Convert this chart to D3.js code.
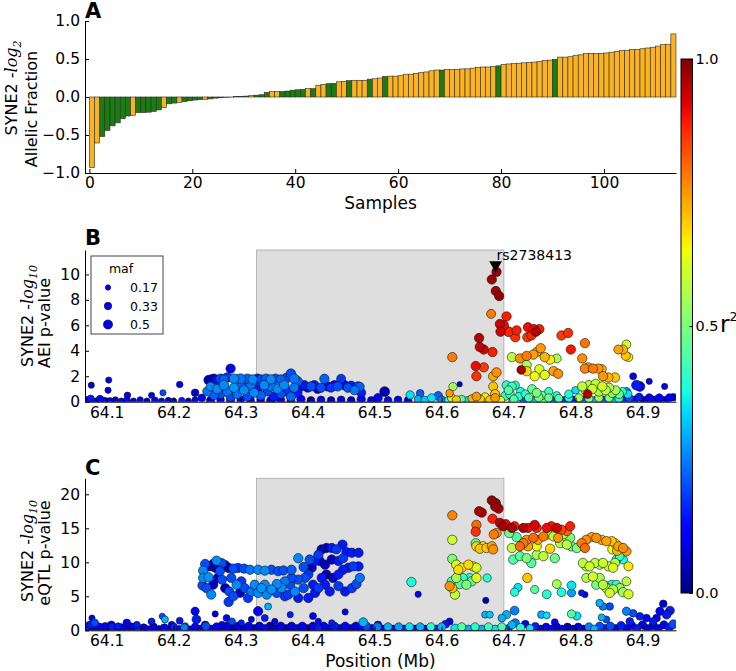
<!DOCTYPE html>
<html>
<head>
<meta charset="utf-8">
<script src="https://cdn.jsdelivr.net/npm/d3@7"></script>
<style>
body { margin: 0; background: #fff; }
text { font-family: "DejaVu Sans", sans-serif; }
</style>
</head>
<body>
<svg width="736" height="671"></svg>
<script>
const svg = d3.select('svg');

// ---------- data ----------
// panel A: allelic fraction per sample, sorted
const afValues = [-0.93,-0.605,-0.52,-0.44,-0.38,-0.34,-0.285,-0.25,-0.24,-0.205,-0.205,-0.2,-0.19,-0.17,-0.14,-0.09,-0.08,-0.07,-0.06,-0.05,-0.04,-0.035,-0.03,-0.025,-0.015,-0.01,-0.005,-0.002,0.004,0.008,0.012,0.018,0.024,0.03,0.06,0.07,0.07,0.072,0.078,0.09,0.095,0.1,0.11,0.11,0.155,0.165,0.175,0.18,0.2,0.205,0.215,0.22,0.22,0.22,0.235,0.24,0.25,0.27,0.275,0.275,0.28,0.3,0.3,0.31,0.32,0.33,0.345,0.355,0.355,0.36,0.36,0.365,0.37,0.37,0.38,0.39,0.395,0.395,0.4,0.41,0.43,0.435,0.44,0.445,0.45,0.455,0.46,0.465,0.48,0.485,0.495,0.525,0.525,0.53,0.55,0.555,0.57,0.575,0.575,0.575,0.58,0.59,0.6,0.61,0.61,0.625,0.625,0.635,0.645,0.655,0.67,0.69,0.695,0.83];
const greenSamples = [2,3,4,5,6,7,9,10,11,12,13,15,16,18,19,20,21,23,24,25,26,27,28,29,30,32,33,34,37,38,39,40,41,43,46,47,50,54,57,68,79,90];
const sampleTicks = [0,20,40,60,80,100];
const afTicks = [-1,-0.5,0,0.5,1];

// panels B and C: [position Mb, -log10 p, r2, maf]
const aeiBase = [[64.07,0.1,0.1,0.3],[64.076,0.25,0.15,0.25],[64.083,0.05,0.05,0.2],[64.09,0.2,0.12,0.3],[64.097,0.1,0.08,0.2],[64.105,0.05,0.1,0.25],[64.113,0.15,0.05,0.2],[64.122,0.05,0.1,0.2],[64.13,0.1,0.12,0.25],[64.14,0.05,0.08,0.2],[64.15,0.15,0.1,0.2],[64.16,0.05,0.05,0.2],[64.172,0.1,0.1,0.25],[64.182,0.05,0.12,0.2],[64.192,0.1,0.08,0.2],[64.2,0.05,0.1,0.2],[64.212,0.1,0.15,0.2],[64.222,0.05,0.05,0.2],[64.232,0.15,0.1,0.2],[64.242,0.3,0.12,0.3],[64.255,0.1,0.05,0.35],[64.27,0.15,0.1,0.3],[64.285,0.1,0.05,0.35],[64.3,0.15,0.1,0.3],[64.315,0.1,0.05,0.3],[64.33,0.15,0.08,0.3],[64.345,0.1,0.05,0.35],[64.36,0.15,0.1,0.3],[64.375,0.1,0.05,0.3],[64.39,0.2,0.1,0.35],[64.405,0.1,0.05,0.3],[64.42,0.15,0.1,0.3],[64.435,0.1,0.05,0.3],[64.45,0.15,0.1,0.3],[64.465,0.1,0.05,0.3],[64.48,0.2,0.1,0.35],[64.495,0.1,0.08,0.3],[64.505,0.3,0.12,0.4],[64.52,0.1,0.1,0.3],[64.535,0.15,0.12,0.3],[64.55,0.1,0.08,0.3],[64.565,0.2,0.3,0.3],[64.575,0.1,0.32,0.35],[64.585,0.3,0.35,0.35],[64.595,0.45,0.22,0.4],[64.6,0.15,0.25,0.3],[64.61,0.1,0.4,0.3],[64.615,0.3,0.6,0.35],[64.622,0.15,0.7,0.35],[64.63,0.2,0.45,0.3],[64.638,0.1,0.35,0.3],[64.645,0.25,0.72,0.3],[64.652,0.4,0.75,0.4],[64.658,0.2,0.7,0.35],[64.665,0.35,0.66,0.4],[64.672,0.15,0.7,0.35],[64.68,0.3,0.75,0.4],[64.688,0.1,0.65,0.35],[64.695,0.45,0.4,0.4],[64.702,0.6,0.42,0.4],[64.708,0.2,0.45,0.35],[64.715,0.4,0.4,0.35],[64.722,0.15,0.2,0.3],[64.73,0.3,0.45,0.35],[64.738,0.1,0.3,0.3],[64.745,0.35,0.5,0.4],[64.752,0.15,0.45,0.35],[64.76,0.3,0.48,0.35],[64.768,0.1,0.2,0.3],[64.775,0.25,0.45,0.35],[64.782,0.1,0.15,0.3],[64.79,0.3,0.38,0.35],[64.798,0.15,0.1,0.3],[64.805,0.3,0.55,0.35],[64.812,0.1,0.2,0.3],[64.82,0.25,0.5,0.35],[64.828,0.1,0.3,0.3],[64.835,0.3,0.55,0.35],[64.842,0.15,0.2,0.3],[64.85,0.3,0.52,0.35],[64.858,0.1,0.3,0.3],[64.865,0.25,0.4,0.35],[64.872,0.1,0.15,0.3],[64.88,0.3,0.2,0.35],[64.888,0.15,0.1,0.3],[64.895,0.35,0.15,0.35],[64.902,0.1,0.05,0.3],[64.91,0.3,0.1,0.35],[64.918,0.15,0.08,0.3],[64.925,0.3,0.12,0.35],[64.932,0.1,0.05,0.3],[64.94,0.3,0.1,0.35],[64.946,0.35,0.08,0.3]];

const aeiCluster = [[64.077,1.3,0.08,0.2],[64.103,1.7,0.1,0.2],[64.102,0.9,0.08,0.2],[64.131,0.5,0.1,0.22],[64.167,0.5,0.12,0.2],[64.184,0.7,0.2,0.2],[64.209,1.35,0.1,0.22],[64.232,0.7,0.08,0.3],
[64.252,1.7,0.05,0.45],[64.256,1.75,0.02,0.45],[64.26,1.8,0.08,0.48],[64.265,1.7,0.15,0.45],[64.27,1.8,0.2,0.48],[64.275,1.75,0.22,0.45],[64.28,1.9,0.18,0.48],[64.285,2.6,0.1,0.45],[64.29,1.8,0.26,0.48],[64.295,1.75,0.2,0.45],[64.3,1.8,0.24,0.5],[64.305,1.7,0.18,0.45],[64.31,1.8,0.22,0.48],[64.318,1.75,0.26,0.45],[64.325,1.8,0.15,0.48],[64.33,1.75,0.2,0.45],[64.338,1.8,0.22,0.48],[64.345,1.75,0.26,0.45],[64.352,1.8,0.2,0.48],[64.36,1.75,0.22,0.45],[64.368,1.85,0.2,0.48],[64.375,2.2,0.2,0.48],[64.38,1.8,0.24,0.5],[64.385,1.6,0.22,0.48],
[64.39,1.2,0.1,0.45],[64.395,1.3,0.15,0.45],[64.4,1.1,0.1,0.42],[64.405,1.2,0.2,0.45],[64.41,1.3,0.15,0.45],[64.415,1.0,0.05,0.42],[64.42,1.1,0.2,0.45],[64.425,1.8,0.22,0.45],[64.43,1.2,0.12,0.45],[64.435,1.1,0.18,0.42],[64.44,1.3,0.1,0.45],[64.445,1.2,0.2,0.45],[64.45,1.8,0.18,0.42],[64.455,1.3,0.12,0.45],[64.46,1.1,0.2,0.45],[64.465,1.25,0.15,0.45],[64.47,0.9,0.24,0.42],[64.475,1.2,0.2,0.45],[64.48,0.7,0.15,0.42],
[64.25,0.8,0.24,0.42],[64.255,1.2,0.26,0.4],[64.26,0.5,0.22,0.42],[64.265,1.0,0.26,0.45],[64.27,0.6,0.2,0.45],[64.275,1.3,0.26,0.48],[64.28,0.8,0.24,0.45],[64.285,0.4,0.2,0.45],[64.29,1.1,0.27,0.45],[64.295,0.6,0.24,0.42],[64.3,1.3,0.22,0.48],[64.305,0.9,0.26,0.45],[64.31,0.4,0.2,0.42],[64.315,1.2,0.24,0.45],[64.32,0.7,0.26,0.45],[64.325,1.0,0.15,0.45],[64.33,0.5,0.22,0.45],[64.335,1.3,0.26,0.45],[64.34,0.8,0.2,0.42],[64.345,1.2,0.24,0.45],[64.35,0.4,0.15,0.45],[64.355,1.0,0.26,0.45],[64.36,0.6,0.2,0.42],[64.365,1.3,0.26,0.48],[64.37,0.8,0.18,0.45],[64.375,0.4,0.22,0.45],[64.38,1.1,0.24,0.45],[64.385,0.7,0.15,0.42],
[64.478,1.18,0.22,0.4],[64.515,0.79,0.05,0.5],[64.553,0.53,0.35,0.35],[64.568,0.66,0.22,0.3],[64.617,1.18,0.55,0.35],[64.627,1.37,0.08,0.15],[64.612,0.66,0.75,0.3]];

const aeiPeak = [[64.682,10.2,0.98,0.45],[64.675,9.6,0.97,0.45],[64.681,8.7,0.97,0.45],[64.686,8.3,0.98,0.45],[64.674,6.9,0.78,0.42],[64.697,6.7,0.88,0.45],[64.687,6.1,0.93,0.45],[64.693,6.0,0.9,0.45],[64.688,5.5,0.93,0.45],[64.7,5.5,0.87,0.5],[64.712,5.6,0.88,0.45],[64.71,5.06,0.86,0.45],[64.729,5.85,0.9,0.45],[64.728,5.06,0.85,0.45],[64.734,5.2,0.87,0.45],[64.738,5.7,0.9,0.45],[64.746,5.7,0.88,0.45],[64.741,5.5,0.95,0.45],[64.779,5.2,0.85,0.45],[64.789,5.4,0.86,0.45],[64.814,4.6,0.79,0.45],[64.793,4.1,0.89,0.45],[64.656,5.0,0.95,0.45],[64.657,4.3,0.94,0.45],[64.663,4.1,0.92,0.45],[64.676,3.9,0.88,0.45],[64.616,3.5,0.78,0.45],[64.651,2.8,0.9,0.45],[64.663,2.7,0.85,0.45],[64.652,2.0,0.86,0.45],[64.682,2.3,0.76,0.45],[64.677,2.0,0.73,0.45],[64.677,1.2,0.7,0.42],[64.68,0.6,0.7,0.42],
[64.705,3.5,0.58,0.45],[64.717,3.4,0.76,0.45],[64.727,3.6,0.78,0.45],[64.737,3.7,0.74,0.45],[64.748,4.2,0.75,0.45],[64.742,3.9,0.72,0.45],[64.754,3.5,0.72,0.45],[64.762,3.3,0.66,0.45],[64.772,3.4,0.55,0.4],[64.727,2.9,0.56,0.45],[64.719,2.5,0.96,0.4],[64.727,2.4,0.68,0.45],[64.739,2.0,0.64,0.45],[64.746,2.55,0.62,0.45],[64.754,2.1,0.62,0.45],[64.767,2.4,0.74,0.45],[64.774,2.2,0.76,0.45],
[64.81,3.4,0.76,0.45],[64.814,2.6,0.77,0.45],[64.819,2.7,0.74,0.45],[64.826,2.6,0.78,0.45],[64.834,2.6,0.75,0.45],[64.839,2.55,0.72,0.45],[64.841,2.0,0.75,0.45],[64.849,1.9,0.72,0.45],[64.859,1.9,0.7,0.45],[64.864,4.1,0.74,0.42],[64.871,4.1,0.72,0.42],[64.876,4.5,0.6,0.4],[64.875,3.6,0.7,0.42],[64.879,3.5,0.66,0.4],
[64.697,1.3,0.4,0.4],[64.7,0.9,0.45,0.4],[64.705,1.2,0.42,0.4],[64.71,1.3,0.4,0.35],[64.718,0.8,0.38,0.35],[64.725,0.6,0.4,0.35],[64.735,1.0,0.48,0.4],[64.742,0.7,0.5,0.4],[64.75,0.5,0.45,0.35],[64.76,0.8,0.42,0.35],[64.772,0.5,0.4,0.3],[64.79,0.6,0.38,0.35],[64.8,0.9,0.35,0.3],
[64.81,1.2,0.58,0.45],[64.815,0.9,0.55,0.45],[64.82,1.3,0.56,0.45],[64.825,1.0,0.6,0.45],[64.83,1.4,0.58,0.45],[64.835,0.8,0.55,0.45],[64.84,1.2,0.6,0.45],[64.845,0.9,0.58,0.45],[64.85,1.1,0.56,0.45],[64.855,0.7,0.52,0.45],[64.86,0.9,0.55,0.4],[64.865,0.6,0.48,0.4],[64.818,0.6,0.96,0.4],[64.87,0.8,0.4,0.35],[64.878,0.6,0.35,0.35],
[64.891,1.3,0.15,0.5],[64.896,1.2,0.12,0.5],[64.886,2.0,0.1,0.25],[64.91,1.6,0.1,0.2],[64.933,1.2,0.1,0.2],[64.876,0.8,0.28,0.35]];

const eqtlBase = [[64.07,0.5,0.15,0.35],[64.075,0.2,0.1,0.3],[64.08,0.6,0.12,0.3],[64.086,0.1,0.08,0.25],[64.092,0.4,0.1,0.3],[64.1,0.2,0.12,0.25],[64.108,0.5,0.15,0.3],[64.115,0.15,0.1,0.25],[64.122,0.4,0.12,0.3],[64.13,0.2,0.08,0.25],[64.138,0.5,0.1,0.3],[64.146,0.2,0.15,0.25],[64.155,0.4,0.1,0.3],[64.163,0.15,0.12,0.25],[64.17,0.5,0.1,0.3],[64.178,0.2,0.08,0.25],[64.186,0.4,0.12,0.3],[64.194,0.15,0.1,0.25],[64.2,0.5,0.15,0.3],[64.208,0.2,0.1,0.25],[64.216,0.4,0.25,0.3],[64.224,0.15,0.1,0.25],[64.232,0.5,0.12,0.3],[64.24,0.2,0.1,0.3],[64.248,0.6,0.2,0.35],[64.256,0.2,0.1,0.3],[64.264,0.5,0.12,0.35],[64.272,0.2,0.08,0.3],[64.28,0.6,0.1,0.35],[64.288,0.3,0.05,0.3],[64.296,0.6,0.1,0.35],[64.304,0.3,0.08,0.3],[64.312,0.6,0.12,0.35],[64.32,0.3,0.05,0.3],[64.328,0.6,0.08,0.35],[64.336,0.3,0.1,0.3],[64.344,0.6,0.05,0.35],[64.352,0.3,0.08,0.3],[64.36,0.6,0.1,0.35],[64.368,0.3,0.05,0.3],[64.376,0.6,0.08,0.35],[64.384,0.3,0.1,0.3],[64.392,0.6,0.12,0.35],[64.4,0.3,0.05,0.3],[64.408,0.6,0.1,0.35],[64.416,0.3,0.15,0.3],[64.424,0.6,0.1,0.35],[64.432,0.3,0.08,0.3],[64.44,0.6,0.15,0.35],[64.448,0.3,0.1,0.3],[64.456,0.6,0.12,0.35],[64.464,0.3,0.08,0.3],[64.472,0.6,0.1,0.35],[64.48,0.3,0.12,0.3],[64.488,0.6,0.2,0.35],[64.496,0.3,0.1,0.3],[64.504,0.5,0.25,0.35],[64.512,0.2,0.12,0.3],[64.52,0.5,0.3,0.35],[64.528,0.2,0.1,0.3],[64.536,0.5,0.28,0.35],[64.544,0.2,0.15,0.3],[64.552,0.5,0.35,0.35],[64.56,0.2,0.1,0.3],[64.568,0.5,0.3,0.35],[64.576,0.2,0.12,0.3],[64.584,0.5,0.4,0.35],[64.592,0.2,0.15,0.3],[64.6,0.5,0.3,0.35],[64.606,0.9,0.15,0.3],[64.612,1.3,0.1,0.25],[64.62,0.3,0.35,0.35],[64.63,0.5,0.45,0.35],[64.64,0.2,0.3,0.3],[64.65,0.5,0.4,0.35],[64.66,0.2,0.3,0.3],[64.67,0.5,0.42,0.35],[64.68,0.2,0.35,0.3],[64.69,0.5,0.45,0.35],[64.7,0.3,0.2,0.3],[64.705,0.8,0.3,0.35],[64.71,1.1,0.25,0.35],[64.718,0.4,0.4,0.35],[64.725,0.9,0.12,0.3],[64.732,0.3,0.35,0.3],[64.74,0.6,0.15,0.3],[64.748,0.2,0.08,0.3],[64.756,0.5,0.1,0.3],[64.764,0.2,0.12,0.3],[64.772,0.5,0.08,0.3],[64.78,0.2,0.1,0.3],[64.788,0.5,0.05,0.3],[64.796,0.2,0.08,0.3],[64.804,0.5,0.1,0.3],[64.812,0.2,0.05,0.3],[64.82,0.5,0.25,0.35],[64.828,0.2,0.3,0.3],[64.836,0.6,0.2,0.35],[64.844,0.3,0.15,0.3],[64.852,0.6,0.2,0.35],[64.86,0.3,0.1,0.3],[64.868,0.7,0.15,0.35],[64.876,0.3,0.12,0.3],[64.884,0.7,0.1,0.35],[64.892,0.3,0.15,0.3],[64.9,0.8,0.12,0.35],[64.908,0.3,0.1,0.3],[64.916,0.7,0.08,0.35],[64.924,0.3,0.1,0.3],[64.932,0.8,0.12,0.35],[64.94,0.4,0.15,0.35],[64.946,0.9,0.2,0.4],
[64.078,1.8,0.1,0.2],[64.082,1.1,0.2,0.3],[64.075,0.8,0.15,0.3],[64.088,0.6,0.1,0.25],[64.098,0.6,0.12,0.3],[64.107,0.8,0.1,0.3],[64.117,0.6,0.15,0.25],[64.13,1.1,0.1,0.3],[64.137,0.6,0.12,0.2],[64.145,0.8,0.15,0.25],[64.157,0.35,0.1,0.2],[64.167,1.3,0.15,0.25],[64.183,2.05,0.2,0.2],[64.187,1.6,0.3,0.25],[64.197,0.8,0.1,0.25],[64.209,1.4,0.15,0.25],[64.217,0.6,0.2,0.25],[64.232,2.8,0.1,0.35],[64.234,1.6,0.15,0.4],[64.247,0.8,0.12,0.3],[64.262,2.4,0.08,0.2],[64.272,0.8,0.1,0.25],[64.279,1.8,0.12,0.25],[64.287,1.3,0.2,0.25],[64.301,1.1,0.15,0.2],[64.316,1.6,0.1,0.2],[64.326,2.8,0.12,0.45],[64.336,1.8,0.15,0.25],[64.341,3.5,0.3,0.25],[64.351,1.3,0.1,0.2],[64.374,2.3,0.15,0.2],[64.408,2.1,0.1,0.25],[64.416,1.3,0.12,0.2],[64.436,1.1,0.15,0.2],[64.456,2.7,0.12,0.2],[64.483,1.2,0.3,0.4],[64.505,0.8,0.15,0.3]];

const eqtlCluster = [[64.244,8.77,0.26,0.45],[64.247,9.75,0.2,0.45],[64.253,9.4,0.05,0.45],[64.259,9.75,0.05,0.45],[64.264,10.24,0.26,0.45],[64.272,9.85,0.2,0.45],[64.277,9.56,0.06,0.45],[64.282,9.16,0.05,0.45],[64.289,9.07,0.2,0.45],[64.296,9.16,0.18,0.45],[64.305,9.07,0.2,0.45],[64.314,8.9,0.24,0.45],[64.326,8.9,0.26,0.45],[64.336,8.77,0.26,0.45],[64.346,8.9,0.2,0.45],[64.356,8.7,0.2,0.45],
[64.244,7.7,0.26,0.45],[64.252,7.8,0.27,0.45],[64.243,6.6,0.2,0.45],[64.249,6.2,0.2,0.45],[64.256,5.25,0.26,0.45],[64.259,6.7,0.06,0.45],[64.266,7.7,0.05,0.45],[64.272,7.45,0.2,0.45],[64.277,6.2,0.06,0.45],[64.283,5.7,0.2,0.45],[64.282,4.16,0.18,0.45],[64.289,5.0,0.2,0.45],[64.294,6.7,0.26,0.45],[64.299,5.5,0.06,0.45],[64.306,6.2,0.2,0.45],[64.311,4.75,0.18,0.45],[64.316,5.7,0.24,0.45],[64.321,6.7,0.26,0.45],[64.326,5.5,0.26,0.45],[64.331,6.2,0.27,0.45],[64.339,5.25,0.26,0.45],[64.346,6.0,0.27,0.45],[64.354,5.5,0.2,0.45],[64.361,6.2,0.26,0.45],[64.366,5.0,0.18,0.45],[64.374,6.7,0.2,0.45],[64.381,5.7,0.26,0.45],[64.386,4.75,0.15,0.45],[64.394,6.2,0.2,0.45],[64.396,7.7,0.2,0.45],[64.401,8.2,0.18,0.45],[64.406,9.2,0.06,0.45],[64.411,10.2,0.15,0.45],[64.416,11.1,0.18,0.45],[64.421,11.9,0.06,0.45],[64.428,12.1,0.05,0.45],[64.436,12.1,0.15,0.45],[64.443,11.9,0.18,0.45],[64.452,12.6,0.15,0.45],[64.458,11.5,0.15,0.45],[64.466,11.4,0.15,0.45],[64.476,11.4,0.15,0.45],
[64.386,10.6,0.26,0.45],[64.394,9.3,0.2,0.45],[64.403,10.4,0.2,0.45],[64.418,10.2,0.05,0.45],[64.426,9.65,0.06,0.45],[64.436,10.4,0.06,0.45],[64.446,10.2,0.15,0.45],[64.453,10.6,0.18,0.45],[64.461,9.2,0.15,0.45],[64.468,9.4,0.18,0.45],[64.476,9.4,0.15,0.45],[64.478,7.7,0.24,0.45],[64.473,6.8,0.2,0.45],[64.466,6.2,0.18,0.45],[64.456,5.7,0.15,0.45],[64.446,6.5,0.18,0.45],[64.438,7.7,0.06,0.45],[64.428,8.2,0.05,0.45],[64.421,7.7,0.15,0.45],[64.416,6.2,0.18,0.45],[64.411,5.5,0.15,0.45],[64.401,4.75,0.15,0.45],[64.386,7.45,0.2,0.45],[64.376,7.7,0.2,0.45],[64.371,5.25,0.18,0.45],[64.453,8.9,0.15,0.45],[64.446,8.2,0.15,0.45],
[64.364,8.8,0.2,0.45],[64.376,8.9,0.22,0.45],[64.262,9.2,0.05,0.45],[64.269,8.7,0.2,0.45],[64.286,7.7,0.2,0.45],[64.301,7.2,0.18,0.45],[64.336,6.7,0.26,0.45],[64.354,6.8,0.26,0.45],[64.366,7.2,0.24,0.45],[64.408,6.7,0.15,0.45],[64.426,6.7,0.15,0.45],[64.433,5.7,0.15,0.45]];

const eqtlPeak = [[64.675,19.1,0.98,0.45],[64.681,18.7,0.97,0.45],[64.685,17.9,0.96,0.45],[64.68,18.2,0.97,0.45],[64.656,17.5,0.96,0.45],[64.66,17.3,0.95,0.45],[64.616,16.9,0.77,0.45],[64.676,16.4,0.88,0.45],[64.652,15.5,0.8,0.45],[64.651,14.5,0.86,0.45],[64.687,15.8,0.95,0.45],[64.692,15.3,0.97,0.45],[64.7,15.1,0.45,0.45],[64.696,15.6,0.9,0.45],[64.709,15.3,0.88,0.45],[64.705,15.05,0.96,0.45],[64.722,15.05,0.95,0.45],[64.729,15.05,0.9,0.45],[64.739,15.5,0.92,0.45],[64.742,15.05,0.88,0.45],[64.757,15.05,0.9,0.45],[64.764,15.3,0.88,0.45],[64.772,15.05,0.93,0.45],[64.779,14.8,0.84,0.45],[64.792,15.3,0.88,0.45],[64.787,14.6,0.8,0.45],[64.701,14.3,0.48,0.45],[64.712,13.7,0.45,0.45],[64.616,13.3,0.6,0.45],[64.678,14.1,0.78,0.45],[64.682,14.3,0.76,0.45],
[64.652,12.35,0.68,0.45],[64.657,12.0,0.7,0.45],[64.662,12.35,0.66,0.45],[64.667,12.1,0.7,0.45],[64.675,12.35,0.73,0.45],[64.677,11.9,0.76,0.45],[64.651,12.8,0.45,0.45],[64.722,12.8,0.78,0.45],[64.727,13.3,0.76,0.45],[64.737,13.6,0.8,0.45],[64.744,13.3,0.74,0.45],[64.752,13.8,0.78,0.45],[64.759,14.1,0.55,0.45],[64.767,13.8,0.58,0.45],[64.774,13.6,0.75,0.45],[64.782,14.1,0.55,0.45],[64.792,13.6,0.5,0.45],[64.762,12.0,0.68,0.45],[64.777,12.8,0.55,0.45],[64.787,12.6,0.58,0.45],[64.794,12.35,0.45,0.45],[64.802,12.1,0.5,0.45],[64.717,12.35,0.8,0.45],[64.729,12.35,0.74,0.45],[64.742,12.35,0.64,0.45],[64.705,12.1,0.58,0.45],[64.707,10.4,0.45,0.45],[64.717,10.9,0.46,0.45],[64.727,10.6,0.5,0.45],[64.734,9.9,0.45,0.45],[64.742,11.1,0.55,0.45],[64.752,10.9,0.58,0.45],[64.769,10.6,0.48,0.45],
[64.809,12.8,0.78,0.45],[64.814,12.1,0.8,0.45],[64.816,13.3,0.76,0.45],[64.824,13.7,0.74,0.45],[64.831,13.6,0.76,0.45],[64.839,13.3,0.72,0.45],[64.846,13.1,0.74,0.45],[64.854,13.1,0.7,0.45],[64.859,12.8,0.66,0.45],[64.864,12.35,0.74,0.45],[64.871,12.1,0.76,0.45],[64.876,11.6,0.75,0.45],[64.862,11.7,0.72,0.45],[64.855,11.9,0.64,0.45],[64.861,10.4,0.4,0.4],[64.871,10.4,0.38,0.4],[64.866,10.9,0.42,0.4],
[64.811,9.9,0.58,0.45],[64.816,9.4,0.56,0.45],[64.821,9.4,0.6,0.45],[64.829,9.9,0.58,0.45],[64.836,9.65,0.56,0.45],[64.841,9.9,0.6,0.45],[64.849,9.4,0.58,0.45],[64.856,9.2,0.62,0.45],[64.859,9.9,0.56,0.45],[64.879,9.4,0.66,0.42],[64.816,7.7,0.56,0.42],[64.826,7.9,0.6,0.45],[64.836,7.7,0.55,0.45],[64.841,6.7,0.58,0.45],[64.846,6.2,0.56,0.45],[64.851,5.5,0.6,0.45],[64.831,6.7,0.5,0.45],[64.844,6.6,0.4,0.4],[64.854,6.7,0.38,0.4],[64.861,6.7,0.42,0.4],[64.876,7.2,0.58,0.4],[64.856,6.0,0.58,0.45],[64.866,6.2,0.52,0.45],[64.871,5.6,0.55,0.45],[64.879,5.3,0.6,0.45],
[64.616,10.5,0.5,0.45],[64.622,9.65,0.62,0.45],[64.63,9.2,0.66,0.45],[64.64,9.65,0.68,0.45],[64.647,9.4,0.6,0.45],[64.652,9.2,0.62,0.45],[64.652,7.7,0.62,0.45],[64.645,7.2,0.45,0.45],[64.635,7.0,0.42,0.45],[64.627,6.8,0.45,0.45],[64.622,7.7,0.55,0.45],[64.615,7.2,0.4,0.4],[64.612,6.5,0.76,0.45],[64.62,5.25,0.58,0.45],[64.616,6.2,0.7,0.45],[64.637,6.7,0.5,0.45],[64.625,8.9,0.68,0.45],[64.642,7.7,0.4,0.4],[64.632,7.7,0.42,0.4],
[64.555,7.1,0.38,0.45],[64.565,5.3,0.12,0.2],[64.668,7.7,0.4,0.35],[64.666,4.4,0.05,0.2],[64.665,2.3,0.3,0.25],[64.672,2.3,0.32,0.25],[64.728,7.7,0.7,0.45],[64.714,6.3,0.35,0.35],[64.709,5.6,0.38,0.35],[64.739,6.0,0.45,0.35],[64.757,5.3,0.4,0.4],[64.779,5.6,0.38,0.4],[64.794,6.6,0.35,0.4],[64.794,5.5,0.28,0.35],[64.772,6.8,0.55,0.4],[64.802,2.1,0.35,0.35],[64.809,5.5,0.15,0.2],[64.814,5.25,0.12,0.2],[64.794,2.4,0.45,0.35],[64.749,2.3,0.3,0.3],[64.757,2.2,0.35,0.25],[64.769,1.2,0.1,0.25],[64.709,2.9,0.25,0.4],[64.697,2.3,0.3,0.35],[64.69,1.8,0.3,0.3],
[64.931,3.9,0.08,0.3],[64.941,2.9,0.15,0.4],[64.936,2.3,0.15,0.4],[64.926,2.8,0.12,0.35],[64.921,1.8,0.1,0.3],[64.916,1.3,0.15,0.3],[64.906,1.8,0.1,0.3],[64.896,2.05,0.15,0.3],[64.886,2.5,0.2,0.3],[64.876,2.8,0.25,0.35],[64.881,1.3,0.15,0.3],[64.836,4.0,0.3,0.3],[64.841,3.5,0.25,0.3],[64.851,3.5,0.2,0.3],[64.839,1.9,0.3,0.25],[64.846,1.6,0.2,0.25]];

const posTicks = [64.1,64.2,64.3,64.4,64.5,64.6,64.7,64.8,64.9];
const aeiTicks = [0,2,4,6,8,10];
const eqtlTicks = [0,5,10,15,20];
const mafLegend = [0.17, 0.33, 0.5];
const r2Ticks = [0, 0.5, 1];
const candidateRegion = [64.3235, 64.693];
const leadSnp = {id: 'rs2738413', pos: 64.6806, p: 10.74};

// ---------- helpers ----------
const orange = '#fcb322';
const green = '#1b7c12';
const tickFont = 15.5;
const left = 85, right = 676;

// matplotlib "jet" colour map
const jetR = d3.scaleLinear().domain([0, 0.35, 0.66, 0.89, 1]).range([0, 0, 1, 1, 0.5]).clamp(true);
const jetG = d3.scaleLinear().domain([0, 0.125, 0.375, 0.64, 0.91, 1]).range([0, 0, 1, 1, 0, 0]).clamp(true);
const jetB = d3.scaleLinear().domain([0, 0.11, 0.34, 0.65, 1]).range([0.5, 1, 1, 0, 0]).clamp(true);
const jet = v => d3.rgb(jetR(v) * 255, jetG(v) * 255, jetB(v) * 255).formatHex();

const rScale = d3.scaleSqrt().domain([0, 0.5]).range([0, 4.95]);

function styleAxis(g, size) {
    g.selectAll('text').attr('font-size', size || tickFont).attr('fill', '#000')
        .attr('font-family', '"DejaVu Sans", sans-serif');
    g.selectAll('line').attr('stroke', '#000');
    g.select('.domain').attr('stroke', '#000').attr('stroke-width', 1);
}

function yLabel(x1, y1, x2, y2, sub, second) {
    const t = svg.append('text')
        .attr('transform', `translate(${x1},${y1}) rotate(-90)`)
        .attr('text-anchor', 'middle')
        .attr('font-size', 16);
    t.append('tspan').text('SYNE2 -');
    t.append('tspan').attr('font-family', '"DejaVu Serif", serif').attr('font-style', 'italic').text('log');
    t.append('tspan').attr('font-family', '"DejaVu Serif", serif').attr('font-style', 'italic')
        .attr('font-size', 11).attr('dy', 4).text(sub);
    svg.append('text')
        .attr('transform', `translate(${x2},${y2}) rotate(-90)`)
        .attr('text-anchor', 'middle')
        .attr('font-size', 16)
        .text(second);
}

function panelLetter(letter, y) {
    svg.append('text').attr('x', 85).attr('y', y)
        .attr('font-size', 21).attr('font-weight', 'bold').text(letter);
}

// ---------- panel A ----------
const xA = d3.scaleLinear().domain([-0.85, 114]).range([left, right]);
const yA = d3.scaleLinear().domain([-1, 1]).range([173, 21]);

const gA = svg.append('g');
gA.selectAll('rect').data(afValues).join('rect')
    .attr('x', (d, i) => xA(i))
    .attr('width', (d, i) => xA(i + 1) - xA(i))
    .attr('y', d => yA(Math.max(0, d)))
    .attr('height', d => Math.abs(yA(d) - yA(0)))
    .attr('fill', (d, i) => greenSamples.includes(i) ? green : orange)
    .attr('stroke', '#2a2a2a')
    .attr('stroke-width', 0.6);

const yAxisA = gA.append('g').attr('transform', `translate(${left},0)`)
    .call(d3.axisLeft(yA).tickValues(afTicks).tickFormat(d3.format('.1f'))
        .tickSizeInner(-4).tickSizeOuter(0).tickPadding(5));
styleAxis(yAxisA);
const xAxisA = gA.append('g').attr('transform', `translate(0,${yA(-1)})`)
    .call(d3.axisBottom(xA).tickValues(sampleTicks).tickSizeInner(-4).tickSizeOuter(0).tickPadding(4));
styleAxis(xAxisA);

svg.append('text').attr('x', (left + right) / 2).attr('y', 209)
    .attr('text-anchor', 'middle').attr('font-size', 17).text('Samples');
yLabel(17, 88, 37, 109, '2', 'Allelic Fraction');
panelLetter('A', 18);

// ---------- scatter panels ----------
const xPos = d3.scaleLinear().domain([64.0676, 64.95]).range([left, right]);

function scatterPanel(id, top, bottom, yMax, ticks, sets) {
    const y = d3.scaleLinear().domain([0, yMax]).range([bottom, top]);
    const g = svg.append('g');

    g.append('clipPath').attr('id', id).append('rect')
        .attr('x', left).attr('y', top).attr('width', right - left).attr('height', bottom - top);

    g.append('rect')
        .attr('x', xPos(candidateRegion[0])).attr('y', top)
        .attr('width', xPos(candidateRegion[1]) - xPos(candidateRegion[0]))
        .attr('height', bottom - top)
        .attr('fill', '#dedede').attr('stroke', '#a8a8a8').attr('stroke-width', 0.8);

    const pts = [].concat(...sets).slice().sort((a, b) => a[2] - b[2]);
    g.append('g').attr('clip-path', `url(#${id})`)
        .selectAll('circle').data(pts).join('circle')
        .attr('cx', d => xPos(d[0]))
        .attr('cy', d => y(d[1]))
        .attr('r', d => rScale(d[3]))
        .attr('fill', d => jet(d[2]))
        .attr('stroke', '#111')
        .attr('stroke-opacity', 0.85)
        .attr('stroke-width', 0.7);

    const ya = g.append('g').attr('transform', `translate(${left},0)`)
        .call(d3.axisLeft(y).tickValues(ticks).tickFormat(d3.format('d'))
            .tickSizeInner(-4).tickSizeOuter(0).tickPadding(5));
    styleAxis(ya);
    const xa = g.append('g').attr('transform', `translate(0,${bottom})`)
        .call(d3.axisBottom(xPos).tickValues(posTicks).tickFormat(d3.format('.1f'))
            .tickSizeInner(-4).tickSizeOuter(0).tickPadding(5));
    styleAxis(xa);
    return y;
}

// panel B
const yB = scatterPanel('clipB', 250, 401.7, 11.92, aeiTicks, [aeiBase, aeiCluster, aeiPeak]);
panelLetter('B', 245);
yLabel(33, 316, 50, 323, '10', 'AEI p-value');

// lead SNP marker
svg.append('path')
    .attr('d', d3.symbol(d3.symbolTriangle, 70)())
    .attr('transform', `translate(${xPos(leadSnp.pos)},${yB(leadSnp.p)}) rotate(180)`)
    .attr('fill', '#000');
svg.append('text').attr('x', xPos(leadSnp.pos) + 1).attr('y', 260)
    .attr('font-size', 14).text(leadSnp.id);

// maf legend
const leg = svg.append('g');
leg.append('rect').attr('x', 91).attr('y', 256).attr('width', 72).attr('height', 78)
    .attr('fill', '#fff').attr('stroke', '#444').attr('stroke-width', 1);
leg.append('text').attr('x', 121).attr('y', 273).attr('text-anchor', 'middle')
    .attr('font-size', 12.5).text('maf');
leg.selectAll('circle').data(mafLegend).join('circle')
    .attr('cx', 108).attr('cy', (d, i) => 287.5 + i * 18.5)
    .attr('r', d => rScale(d) * 0.92)
    .attr('fill', jet(0.12)).attr('stroke', '#111').attr('stroke-width', 0.7);
leg.selectAll('text.lab').data(mafLegend).join('text').attr('class', 'lab')
    .attr('x', 130).attr('y', (d, i) => 287.5 + i * 18.5 + 4.5)
    .attr('font-size', 12.5).text(d => d);

// panel C
scatterPanel('clipC', 478.3, 630.3, 22.35, eqtlTicks, [eqtlBase, eqtlCluster, eqtlPeak]);
panelLetter('C', 475);
yLabel(33, 551, 50, 553, '10', 'eQTL p-value');
svg.append('text').attr('x', (left + right) / 2).attr('y', 667)
    .attr('text-anchor', 'middle').attr('font-size', 17).text('Position (Mb)');

// ---------- colour bar ----------
const cbX = 681, cbW = 11.5;
const yCb = d3.scaleLinear().domain([0, 1]).range([593, 59]);
const grad = svg.append('defs').append('linearGradient').attr('id', 'jetGrad')
    .attr('x1', 0).attr('y1', 1).attr('x2', 0).attr('y2', 0);
grad.selectAll('stop').data(d3.range(0, 1.0001, 0.02)).join('stop')
    .attr('offset', d => d).attr('stop-color', d => jet(d));
svg.append('rect').attr('x', cbX).attr('y', yCb(1)).attr('width', cbW)
    .attr('height', yCb(0) - yCb(1)).attr('fill', 'url(#jetGrad)')
    .attr('stroke', '#000').attr('stroke-width', 1);
const cbAxis = svg.append('g').attr('transform', `translate(${cbX + cbW},0)`)
    .call(d3.axisRight(yCb).tickValues(r2Ticks).tickFormat(d3.format('.1f'))
        .tickSizeInner(-3).tickSizeOuter(0).tickPadding(3));
styleAxis(cbAxis, 14.5);
cbAxis.select('.domain').remove();
const r2 = svg.append('text').attr('x', 720).attr('y', 332).attr('font-size', 23);
r2.append('tspan').text('r');
r2.append('tspan').attr('font-size', 12.5).attr('dy', -11).text('2');
</script>
</body>
</html>
